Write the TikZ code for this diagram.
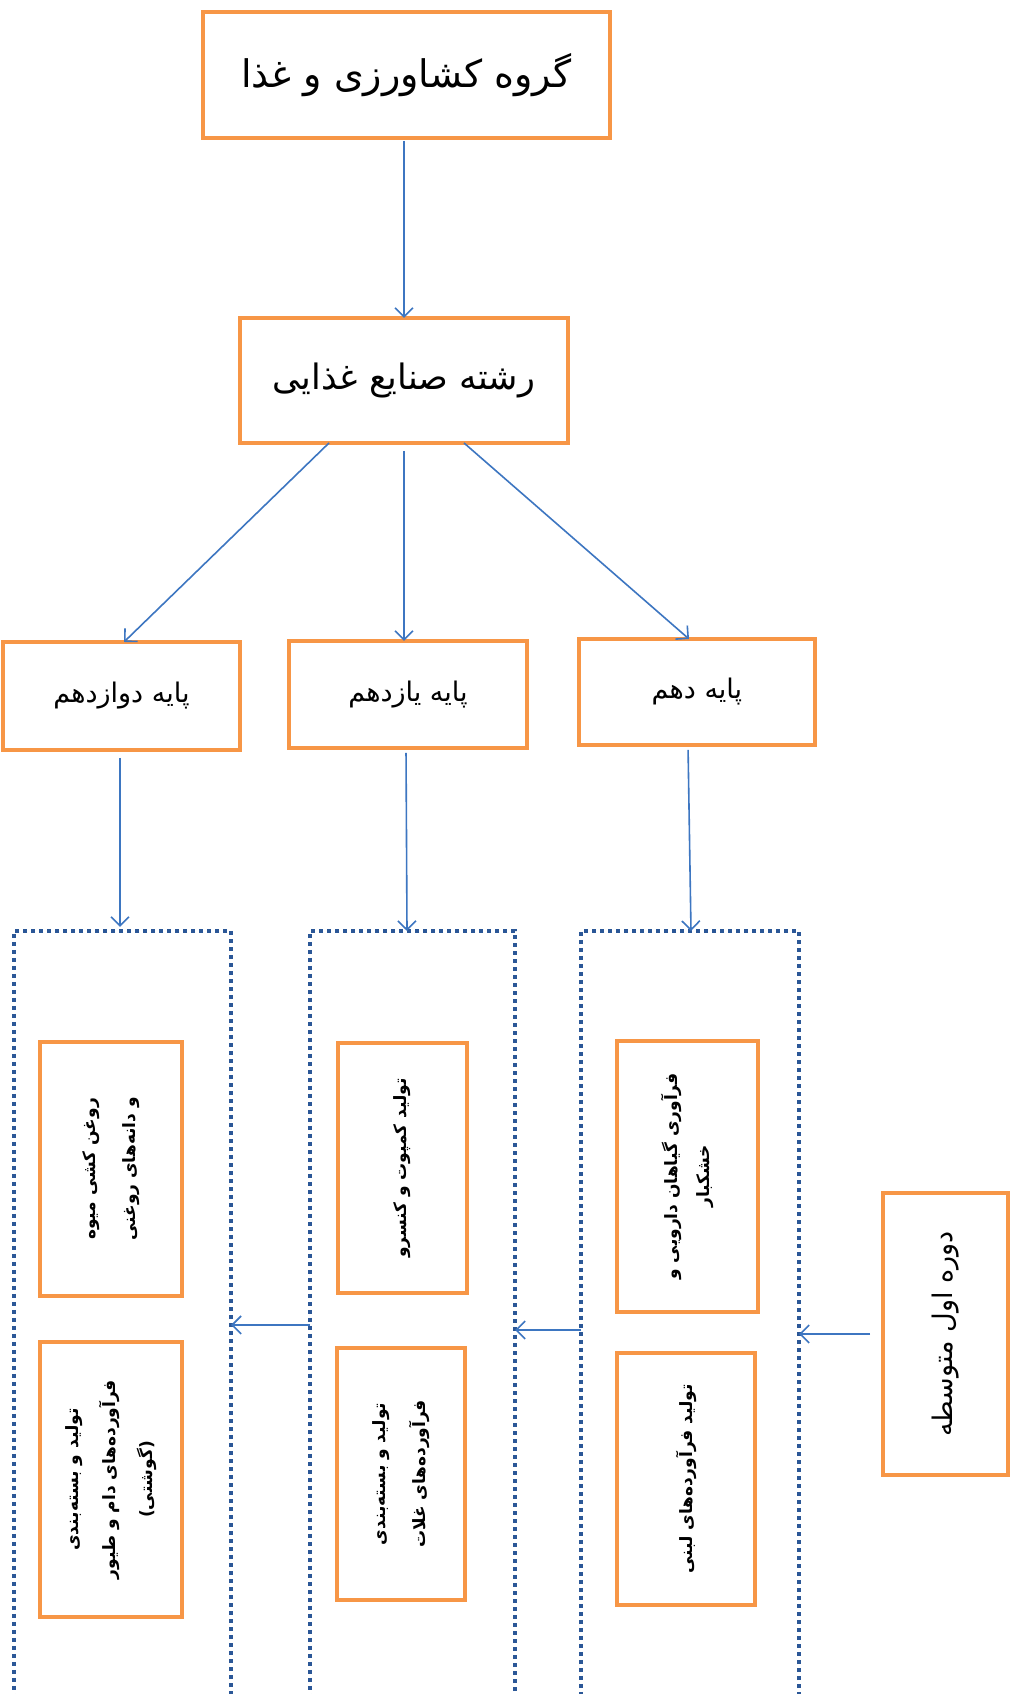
\documentclass[tikz,border=0pt]{standalone}
\usepackage{fontspec}
\newfontfamily\fa[Script=Arabic]{DejaVu Sans}
\TeXXeTstate=1
\usetikzlibrary{arrows.meta}
\definecolor{borange}{HTML}{F79646}
\definecolor{arblue}{HTML}{3D76C1}
\definecolor{dblue}{HTML}{2B5797}
\begin{document}
\begin{tikzpicture}[x=1pt,y=1pt,
  obox/.style={draw=borange, line width=4.5pt, inner sep=0pt, outer sep=0pt, fill=white, align=center, text=black},
  dbox/.style={draw=dblue, line width=4pt, dash pattern=on 4pt off 4pt, inner sep=0pt, outer sep=0pt},
  arr/.style={draw=arblue, line width=1.6pt, -{Straight Barb[length=9pt,width=18pt]}},
  bigtxt/.style={font=\fa\fontsize{38}{44}\selectfont},
  midtxt/.style={font=\fa\fontsize{27}{32}\selectfont},
  vtxt/.style={rotate=90, font=\fa\bfseries\fontsize{17}{40}\selectfont},
]
\useasboundingbox (0,0) rectangle (1013,1694);
\clip (0,0) rectangle (1013,1694);
\fill[white] (0,0) rectangle (1013,1694);

% top boxes
\node[obox, minimum width=407, minimum height=126, bigtxt] (top) at (406.5,1619) {\beginR گروه کشاورزی و غذا\endR};
\node[obox, minimum width=328, minimum height=125, font=\fa\fontsize{35}{40}\selectfont] (b2) at (404,1313.5) {\beginR رشته صنایع غذایی\endR};

% grade boxes
\node[obox, minimum width=237, minimum height=108, midtxt] (pL) at (121.5,998) {\beginR پایه دوازدهم\endR};
\node[obox, minimum width=238, minimum height=107, midtxt] (pM) at (408,999.5) {\beginR پایه یازدهم\endR};
\node[obox, minimum width=236, minimum height=106, midtxt] (pR) at (697,1002) {\beginR پایه دهم\endR};

% dotted groups
\node[dbox, minimum width=217, minimum height=779] (dL) at (122.5,373.5) {};
\node[dbox, minimum width=205, minimum height=779] (dM) at (412.5,373.5) {};
\node[dbox, minimum width=218, minimum height=779] (dR) at (690,373.5) {};

% inner boxes (rotated)
\node[obox, vtxt, minimum width=254, minimum height=142] (lt) at (111,525)
  {\beginR روغن کشی میوه\endR\\\beginR و دانه‌های روغنی\endR};
\node[obox, vtxt, minimum width=275, minimum height=142, font=\fa\bfseries\fontsize{17}{37}\selectfont] (lb) at (111,214.5)
  {\beginR تولید و بسته‌بندی\endR\\\beginR فرآورده‌های دام و طیور\endR\\\beginR (گوشتی)\endR};
\node[obox, vtxt, minimum width=250, minimum height=129] (mt) at (402.5,526)
  {\beginR تولید کمپوت و کنسرو\endR};
\node[obox, vtxt, minimum width=252, minimum height=128] (mb) at (401,220)
  {\beginR تولید و بسته‌بندی\endR\\\beginR فرآورده‌های غلات\endR};
\node[obox, vtxt, minimum width=271, minimum height=141, font=\fa\bfseries\fontsize{17}{32}\selectfont] (rt) at (687.5,517.5)
  {\beginR فرآوری گیاهان دارویی و\endR\\\beginR خشکبار\endR};
\node[obox, vtxt, minimum width=252, minimum height=138] (rb) at (686,215)
  {\beginR تولید فرآورده‌های لبنی\endR};

% first secondary period box
\node[obox, rotate=90, minimum width=282, minimum height=125, font=\fa\fontsize{27}{32}\selectfont] (fr) at (945.5,360)
  {\beginR دوره اول متوسطه\endR};

% connectors
\draw[arr, shorten <=3pt] (b2.north |- top.south) -- (b2.north);
\draw[arr] ([xshift=-75pt]b2.south) -- ([xshift=2.5pt]pL.north);
\draw[arr, shorten <=8pt] (b2.south) -- (b2.south |- pM.north);
\draw[arr] ([xshift=60pt]b2.south) -- ([xshift=-8pt]pR.north);

\draw[arr, shorten <=8pt, shorten >=4pt] ([xshift=-1.5pt]pL.south) -- ([xshift=-1.5pt]pL.south |- dL.north);
\draw[arr, shorten <=5pt] ([xshift=-2pt]pM.south) -- ([xshift=-5.5pt]dM.north);
\draw[arr, shorten <=5pt] ([xshift=-9pt]pR.south) -- ([xshift=1pt]dR.north);

\draw[arr, shorten <=13pt] (fr.north) -- (dR.east |- fr.north);
\draw[arr] ([yshift=-9.5pt]dR.west) -- ([yshift=-9.5pt]dM.east);
\draw[arr] ([yshift=-4.5pt]dM.west) -- ([yshift=-4.5pt]dL.east);
\end{tikzpicture}
\end{document}
